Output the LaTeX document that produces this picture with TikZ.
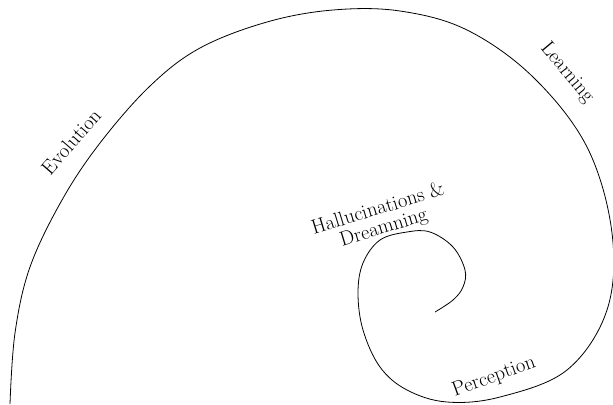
\documentclass[tikz,border=0pt]{standalone}
\usepackage{fontspec}
\begin{document}
\begin{tikzpicture}[x=1bp,y=-1bp,
  lbl/.style={inner sep=0pt, font=\fontsize{20.5}{19.5}\selectfont, align=center},
  spiral/.style={line width=0.8bp}]
\useasboundingbox (0,0) rectangle (613,404);
\draw[spiral] plot[smooth, tension=0.6] coordinates {
(10,404) (15,333) (30,267) (62,200) (100,143) (150,86) (200,48) (267,22) (333,10) (400,11) (467,30) (533,77) (587,147) (612,233) (607,310) (567,370) (500,397) (447,402) (407,390) (380,367) (363,330) (358,293) (363,263) (380,240) (407,232) (430,232) (453,247) (465,270) (463,287) (453,300) (435,312)};
\coordinate (end) at (435,312);
\node[lbl, rotate=49] (evo) at (71,142) {Evolution};
\node[lbl, rotate=-50] (learn) at (567,73) {Learning};
\node[lbl, rotate=17] (hall) at (381,219) {Hallucinations \&\\Dreamning};
\node[lbl, rotate=20] (perc) at (494,377) {Perception};
\end{tikzpicture}
\end{document}
